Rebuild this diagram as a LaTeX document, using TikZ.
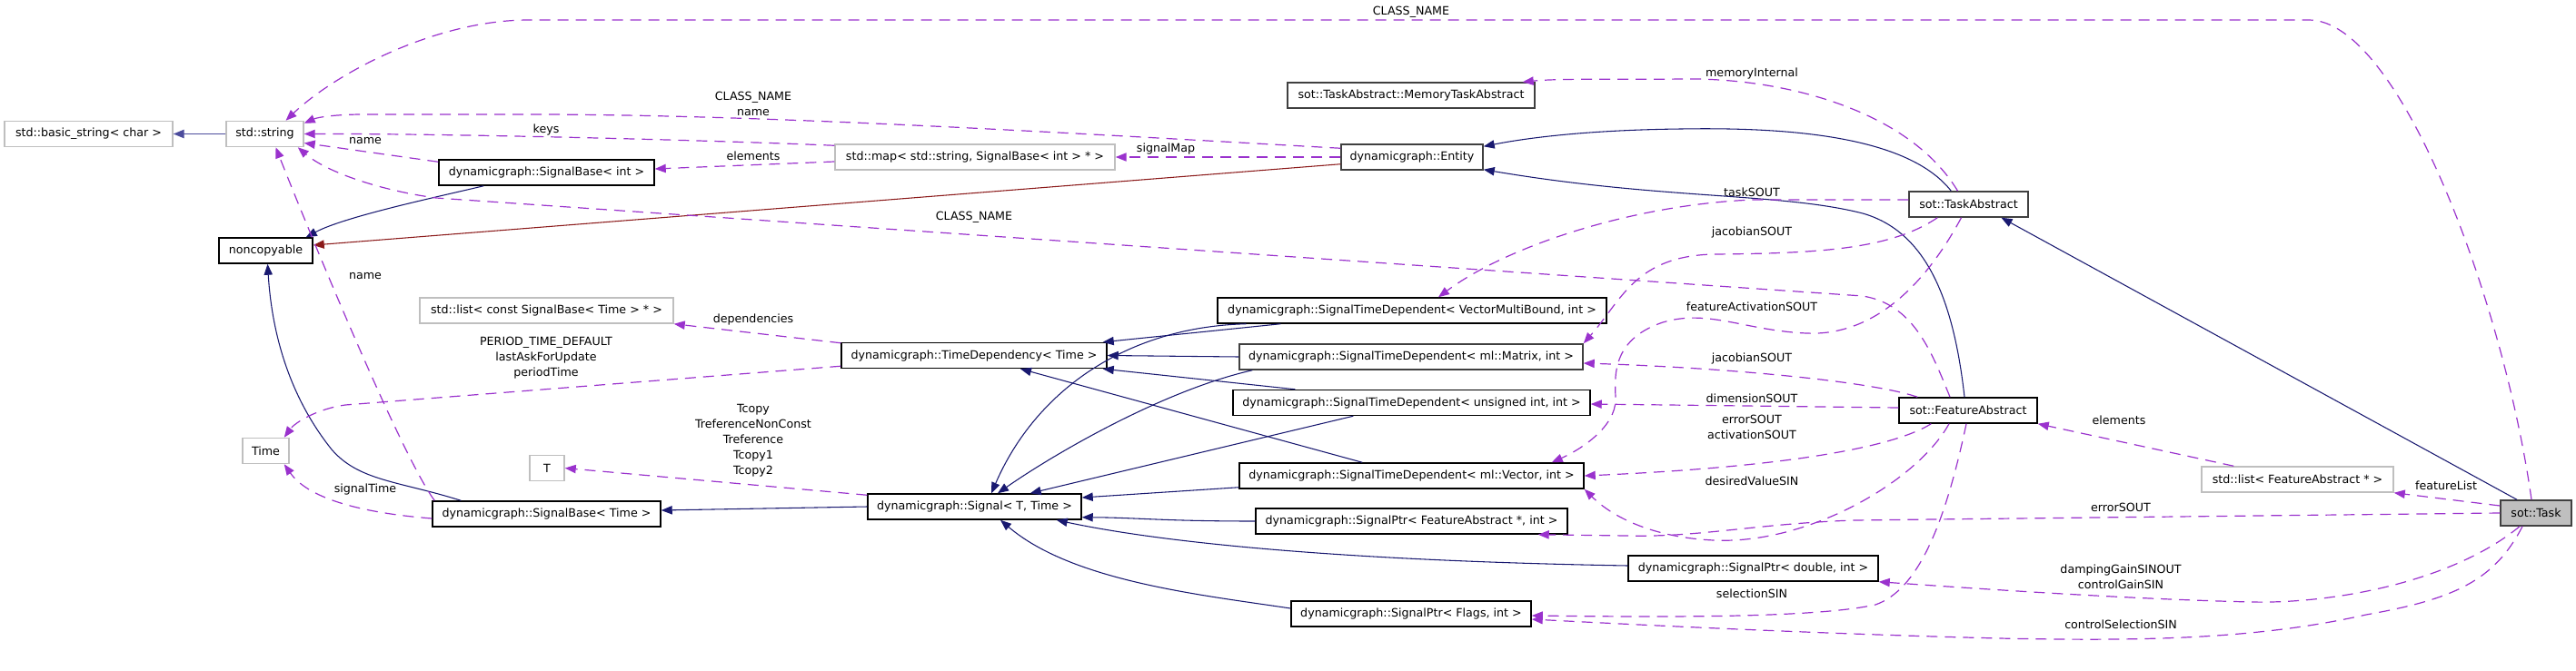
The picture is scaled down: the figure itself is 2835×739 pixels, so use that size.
\documentclass[tikz,border=0pt]{standalone}
\usepackage{fontspec}
\setmainfont{DejaVu Sans}
\usetikzlibrary{arrows.meta,calc}
\definecolor{inhc}{HTML}{191970}
\definecolor{inhc2}{HTML}{4C4C9C}
\definecolor{protc}{HTML}{8B1A1A}
\definecolor{usec}{HTML}{9A32CD}
\definecolor{boxgray}{HTML}{BFBFBF}
\definecolor{boxdark}{HTML}{404040}
\definecolor{taskgray}{HTML}{BFBFBF}
\begin{document}
\begin{tikzpicture}[x=0.75pt,y=-0.75pt,
  font=\fontsize{9.5}{12.75}\selectfont,
  box/.style={draw=black, line width=1.1pt, minimum height=21pt, inner sep=0pt, fill=white},
  gbox/.style={box, draw=boxgray},
  dbox/.style={box, draw=boxdark},
  lbl/.style={inner sep=0pt, align=center},
  tip/.style={-{Triangle[length=9pt,width=7pt]}},
  inhedge/.style={draw=inhc, line width=0.8pt, tip},
  inhedgeb/.style={draw=inhc2, line width=1.4pt, tip},
  protedge/.style={draw=protc, line width=0.8pt, tip},
  usedge/.style={draw=usec, line width=0.9pt, dash pattern=on 9pt off 6pt, tip}]
\useasboundingbox (0,0) rectangle (2835,739);

% nodes
\node[gbox, minimum width=138.75pt] (bstr) at (97.5,147.5) {std::basic\_string< char >};
\node[gbox, minimum width=63.75pt] (str) at (291.5,147.5) {std::string};
\node[box, minimum width=177.75pt] (sbint) at (601.5,190) {dynamicgraph::SignalBase< int >};
\node[box, minimum width=77.25pt] (nonc) at (292.5,276) {noncopyable};
\node[gbox, minimum width=209.25pt] (deplist) at (601.5,342) {std::list< const SignalBase< Time > * >};
\node[gbox, minimum width=38.25pt] (time) at (292.5,496.5) {Time};
\node[gbox, minimum width=28.5pt] (T) at (602,515.5) {T};
\node[box, minimum width=188.25pt] (sbtime) at (601.5,566) {dynamicgraph::SignalBase< Time >};
\node[gbox, minimum width=231pt] (map) at (1073,173) {std::map< std::string, SignalBase< int > * >};
\node[box, minimum width=219pt] (timedep) at (1072,391.5) {dynamicgraph::TimeDependency< Time >};
\node[box, minimum width=176.25pt] (signal) at (1072.5,558) {dynamicgraph::Signal< T, Time >};
\node[dbox, minimum width=204pt] (mem) at (1553,105) {sot::TaskAbstract::MemoryTaskAbstract};
\node[dbox, minimum width=117pt] (entity) at (1554,173) {dynamicgraph::Entity};
\node[box, minimum width=321pt] (stdvmb) at (1554,342) {dynamicgraph::SignalTimeDependent< VectorMultiBound, int >};
\node[dbox, minimum width=283.5pt] (stdmat) at (1553,393) {dynamicgraph::SignalTimeDependent< ml::Matrix, int >};
\node[box, minimum width=294.75pt] (stduint) at (1553.5,443.5) {dynamicgraph::SignalTimeDependent< unsigned int, int >};
\node[box, minimum width=284.25pt] (stdvec) at (1553.5,524) {dynamicgraph::SignalTimeDependent< ml::Vector, int >};
\node[box, minimum width=257.25pt] (spfa) at (1553.5,574) {dynamicgraph::SignalPtr< FeatureAbstract *, int >};
\node[box, minimum width=198pt] (spflags) at (1553,676) {dynamicgraph::SignalPtr< Flags, int >};
\node[box, minimum width=206.25pt] (spdouble) at (1929.5,626) {dynamicgraph::SignalPtr< double, int >};
\node[dbox, minimum width=98.25pt] (taskabs) at (2166.5,225) {sot::TaskAbstract};
\node[box, minimum width=114pt] (featabs) at (2166,452) {sot::FeatureAbstract};
\node[gbox, minimum width=158.25pt] (flist) at (2528.5,528) {std::list< FeatureAbstract * >};
\node[box, draw=boxdark, fill=taskgray, minimum width=58.5pt] (task) at (2791,565) {sot::Task};

% labels
\node[lbl] (lcn1) at (1553,13) {CLASS\_NAME};
\node[lbl] (lcn2) at (829,114.5) {CLASS\_NAME\\name};
\node[lbl] (lkeys) at (601,143) {keys};
\node[lbl] (lname1) at (402,155) {name};
\node[lbl] (lelem1) at (829,172) {elements};
\node[lbl] (lcn3) at (1072,239) {CLASS\_NAME};
\node[lbl] (lname2) at (402,304) {name};
\node[lbl] (ldep) at (829,352) {dependencies};
\node[lbl] (lper) at (601,394.5) {PERIOD\_TIME\_DEFAULT\\lastAskForUpdate\\periodTime};
\node[lbl] (ltc) at (829,485) {Tcopy\\TreferenceNonConst\\Treference\\Tcopy1\\Tcopy2};
\node[lbl] (lst) at (402,539) {signalTime};
\node[lbl] (lsm) at (1283,164) {signalMap};
\node[lbl] (lmem) at (1928,81) {memoryInternal};
\node[lbl] (ltask) at (1928,212) {taskSOUT};
\node[lbl] (ljac1) at (1928,256) {jacobianSOUT};
\node[lbl] (lfas) at (1928,338) {featureActivationSOUT};
\node[lbl] (ljac2) at (1928,395) {jacobianSOUT};
\node[lbl] (ldim) at (1928,439) {dimensionSOUT};
\node[lbl] (lerr1) at (1928,470.5) {errorSOUT\\activationSOUT};
\node[lbl] (ldes) at (1928,530) {desiredValueSIN};
\node[lbl] (lsel) at (1928,654) {selectionSIN};
\node[lbl] (lelem2) at (2332,463) {elements};
\node[lbl] (lfl) at (2692,535) {featureList};
\node[lbl] (lerr2) at (2334,559) {errorSOUT};
\node[lbl] (ldamp) at (2334,635.5) {dampingGainSINOUT\\controlGainSIN};
\node[lbl] (lcs) at (2334,688) {controlSelectionSIN};

% inheritance edges
\draw[inhedgeb] (str.west) -- (bstr.east);
\draw[inhedge] ($(sbint.south west)+(50,0)$) .. controls (490,215) and (380,238) .. ($(nonc.north east)+(-8,0)$);
\draw[protedge] ($(entity.south west)+(0,-7)$) -- ($(nonc.east)+(0,-6)$);
\draw[inhedge] ($(sbtime.north west)+(32,0)$) .. controls (440,530) and (395,530) .. (365,495) .. controls (325,445) and (300,380) .. ($(nonc.south)+(2,0)$);
\draw[inhedge] (signal.west) -- ($(sbtime.east)+(0,-4)$);
\draw[inhedge] ($(stdvmb.south west)+(70,0)$) -- ($(timedep.north east)+(-5,0)$);
\draw[inhedge] ($(stdvmb.south west)+(32,0)$) .. controls (1240,360) and (1140,430) .. ($(signal.north)+(18.5,0)$);
\draw[inhedge] (stdmat.west) -- (timedep.east);
\draw[inhedge] ($(stdmat.south west)+(15,0)$) .. controls (1280,430) and (1160,500) .. ($(signal.north)+(25.5,0)$);
\draw[inhedge] ($(stduint.north west)+(69,0)$) -- ($(timedep.south east)+(-5,0)$);
\draw[inhedge] ($(stduint.south west)+(133,0)$) -- ($(signal.north east)+(-57,0)$);
\draw[inhedge] ($(stdvec.north west)+(136,0)$) -- ($(timedep.south)+(51,0)$);
\draw[inhedge] ($(stdvec.south west)+(0,-2)$) -- ($(signal.east)+(0,-10)$);
\draw[inhedge] (spfa.west) .. controls (1280,574) and (1250,570) .. ($(signal.south east)+(0,-3)$);
\draw[inhedge] ($(spdouble.west)+(0,-3)$) .. controls (1500,618) and (1290,600) .. ($(signal.south east)+(-28,0)$);
\draw[inhedge] ($(spflags.west)+(0,-6)$) .. controls (1320,655) and (1180,640) .. ($(signal.south)+(28.5,0)$);
\draw[inhedge] ($(taskabs.north west)+(47,0)$) .. controls (2100,150) and (1970,140) .. (1850,142) .. controls (1760,143) and (1690,150) .. ($(entity.north east)+(0,3)$);
\draw[inhedge] ($(featabs.north)+(-4,0)$) .. controls (2150,330) and (2120,255) .. (2050,235) .. controls (1960,212) and (1830,220) .. ($(entity.south east)+(0,-1)$);
\draw[inhedge] ($(task.north)+(-21,0)$) -- ($(taskabs.south)+(36,0)$);

% usage edges
\draw[usedge] ($(task.north)+(-5,0)$) .. controls (2755,330) and (2640,22) .. (2541,22) -- (582,22) .. controls (480,22) and (370,80) .. ($(str.north)+(23,0)$);
\draw[usedge] ($(entity.north west)+(0,5)$) .. controls (1150,145) and (850,127) .. (600,126) -- (400,126) .. controls (370,126) and (350,129) .. ($(str.north east)+(0,3)$);
\draw[usedge] ($(map.north west)+(0,2)$) .. controls (800,155) and (500,147) .. (str.east);
\draw[usedge] ($(sbint.north west)+(0,3)$) -- ($(str.east)+(0,10)$);
\draw[usedge] ($(featabs.north)+(-20,0)$) .. controls (2125,385) and (2105,335) .. (2050,326) -- (480,218) .. controls (420,210) and (360,190) .. ($(str.south east)+(-7,0)$);
\draw[usedge] ($(sbtime.north west)+(3,0)$) .. controls (440,500) and (330,230) .. ($(str.south)+(12,0)$);
\draw[usedge] ($(map.west)+(0,5)$) -- ($(sbint.east)+(0,-4)$);
\draw[usedge] (entity.west) -- (map.east);
\draw[usedge] ($(timedep.north west)+(0,1)$) -- (deplist.south east);
\draw[usedge] ($(timedep.south west)+(0,-3)$) -- (380,446) .. controls (350,450) and (325,465) .. ($(time.north east)+(-6,0)$);
\draw[usedge] ($(signal.north west)+(0,2)$) -- (T.east);
\draw[usedge] ($(sbtime.west)+(0,5)$) .. controls (400,565) and (340,550) .. ($(time.south east)+(-6,0)$);
\draw[usedge] ($(taskabs.north)+(-12,0)$) .. controls (2100,120) and (1960,85) .. (1850,87) .. controls (1780,88) and (1720,86) .. ($(mem.north east)+(-14,0)$);
\draw[usedge] ($(taskabs.west)+(0,-5)$) -- (1930,220) .. controls (1800,225) and (1660,270) .. ($(stdvmb.north)+(29,0)$);
\draw[usedge] ($(taskabs.south west)+(32,0)$) .. controls (2080,275) and (2000,279) .. (1886,280) .. controls (1800,282) and (1785,330) .. (stdmat.north east);
\draw[usedge] ($(taskabs.south)+(-8,0)$) .. controls (2110,330) and (2050,370) .. (1988,367) .. controls (1920,364) and (1880,340) .. (1830,355) .. controls (1770,375) and (1778,420) .. (1778,440) .. controls (1778,470) and (1740,495) .. ($(stdvec.north east)+(-36,0)$);
\draw[usedge] ($(featabs.north west)+(21,0)$) .. controls (2060,420) and (1900,405) .. ($(stdmat.east)+(0,7)$);
\draw[usedge] ($(featabs.west)+(0,-3)$) -- ($(stduint.east)+(0,1.5)$);
\draw[usedge] ($(featabs.south west)+(36,0)$) .. controls (2080,495) and (1950,515) .. (stdvec.east);
\draw[usedge] ($(featabs.south)+(-21,0)$) .. controls (2110,530) and (1990,600) .. (1886,595) .. controls (1820,592) and (1775,570) .. (stdvec.south east);
\draw[usedge] ($(featabs.south)+(-2,0)$) .. controls (2140,580) and (2110,650) .. (2064,666) .. controls (2000,680) and (1850,680) .. ($(spflags.east)+(0,2)$);
\draw[usedge] ($(flist.north west)+(36,0)$) -- (featabs.south east);
\draw[usedge] ($(task.west)+(0,-8)$) -- (flist.south east);
\draw[usedge] (task.west) -- (2040,573) .. controls (1930,577) and (1870,592) .. (1790,590) -- ($(spfa.south east)+(-33,0)$);
\draw[usedge] ($(task.south)+(-18,0)$) .. controls (2700,640) and (2570,665) .. (2478,663) .. controls (2350,660) and (2200,650) .. (spdouble.south east);
\draw[usedge] ($(task.south)+(-15,0)$) .. controls (2745,640) and (2700,660) .. (2604,677) .. controls (2480,705) and (2350,706) .. (2200,703) .. controls (2000,698) and (1800,688) .. ($(spflags.east)+(0,6)$);
\end{tikzpicture}
\end{document}
